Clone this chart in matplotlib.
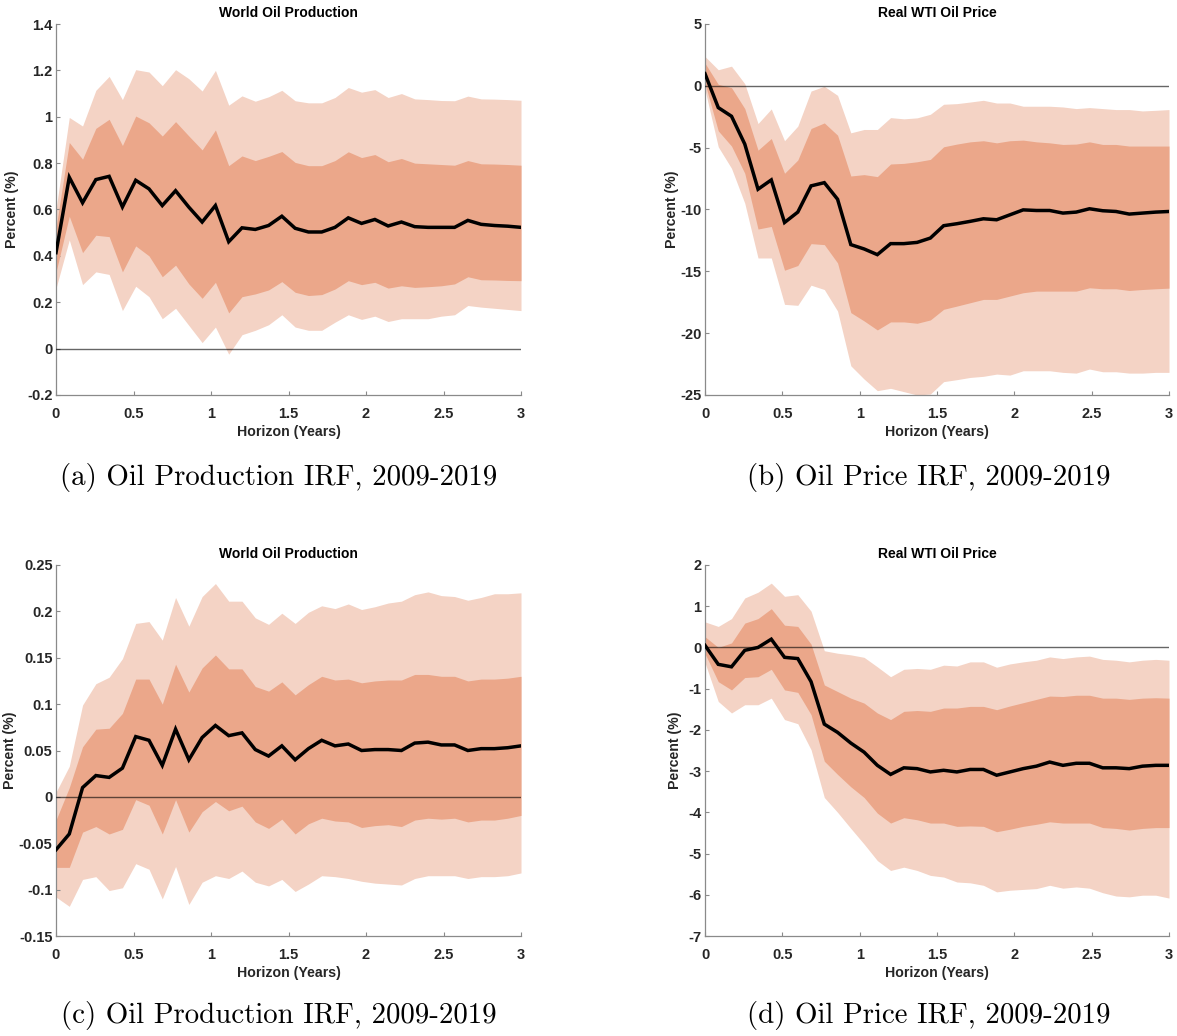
import numpy as np
import matplotlib
matplotlib.use("Agg")
import matplotlib.pyplot as plt
from matplotlib.ticker import FuncFormatter

#%% data: horizon in years (36 monthly steps), median + 68% / 95% bands
horizon = np.linspace(0, 3, 36)

# (a) world oil production, 2009-2019
a_med = [0.414, 0.739, 0.629, 0.729, 0.743, 0.611, 0.726, 0.689, 0.617, 0.681, 0.61, 0.546,
         0.617, 0.461, 0.521, 0.514, 0.531, 0.571, 0.519, 0.503, 0.503, 0.523, 0.564, 0.54,
         0.557, 0.529, 0.546, 0.526, 0.523, 0.523, 0.523, 0.553, 0.536, 0.531, 0.528, 0.523]
a_hi95 = [0.6, 0.997, 0.96, 1.114, 1.174, 1.074, 1.203, 1.193, 1.134, 1.203, 1.164, 1.111,
          1.2, 1.05, 1.09, 1.067, 1.086, 1.114, 1.069, 1.06, 1.06, 1.083, 1.126, 1.106,
          1.117, 1.083, 1.1, 1.077, 1.074, 1.07, 1.069, 1.089, 1.077, 1.076, 1.074, 1.071]
a_hi68 = [0.52, 0.889, 0.817, 0.95, 0.989, 0.876, 1.003, 0.974, 0.917, 0.979, 0.917, 0.857,
          0.943, 0.789, 0.831, 0.811, 0.829, 0.85, 0.803, 0.789, 0.789, 0.811, 0.849, 0.824,
          0.837, 0.806, 0.82, 0.8, 0.797, 0.794, 0.791, 0.811, 0.797, 0.796, 0.794, 0.791]
a_lo68 = [0.33, 0.571, 0.414, 0.489, 0.483, 0.331, 0.443, 0.4, 0.31, 0.36, 0.279, 0.217,
          0.286, 0.154, 0.224, 0.236, 0.253, 0.289, 0.243, 0.229, 0.233, 0.257, 0.293, 0.276,
          0.286, 0.261, 0.271, 0.264, 0.267, 0.271, 0.279, 0.31, 0.297, 0.296, 0.294, 0.293]
a_lo95 = [0.26, 0.469, 0.276, 0.331, 0.32, 0.164, 0.269, 0.224, 0.129, 0.174, 0.1, 0.026,
          0.093, -0.024, 0.06, 0.079, 0.103, 0.146, 0.093, 0.079, 0.079, 0.114, 0.146, 0.126,
          0.14, 0.117, 0.129, 0.129, 0.129, 0.14, 0.146, 0.186, 0.179, 0.174, 0.169, 0.164]

# (b) real WTI oil price, 2009-2019
b_med = [0.98, -1.76, -2.46, -4.71, -8.36, -7.61, -11.05, -10.21, -8.09, -7.83, -9.17, -12.84,
         -13.19, -13.65, -12.76, -12.76, -12.66, -12.31, -11.31, -11.15, -10.96, -10.75, -10.83, -10.43,
         -10.03, -10.08, -10.08, -10.29, -10.21, -9.94, -10.1, -10.16, -10.37, -10.29, -10.21, -10.16]
b_hi95 = [2.37, 1.3, 1.59, 0.17, -3.05, -1.87, -4.44, -3.26, -0.42, -0.04, -0.77, -3.8,
          -3.53, -3.53, -2.57, -2.67, -2.59, -2.3, -1.49, -1.44, -1.31, -1.17, -1.39, -1.39,
          -1.65, -1.65, -1.65, -1.71, -1.84, -1.76, -1.84, -1.92, -1.92, -2.03, -1.98, -1.92]
b_hi68 = [1.83, 0.12, -0.15, -1.84, -5.2, -4.26, -7.07, -6.0, -3.45, -3.0, -3.99, -7.29,
          -7.18, -7.34, -6.32, -6.27, -6.14, -5.95, -4.93, -4.71, -4.53, -4.44, -4.61, -4.44,
          -4.39, -4.53, -4.61, -4.74, -4.71, -4.53, -4.74, -4.74, -4.87, -4.87, -4.87, -4.87]
b_lo68 = [0.2, -3.64, -4.87, -7.07, -11.58, -11.37, -14.91, -14.53, -12.76, -12.84, -14.32, -18.34,
          -19.01, -19.74, -19.09, -19.09, -19.2, -18.93, -18.07, -17.81, -17.54, -17.27, -17.27, -17.0,
          -16.73, -16.6, -16.6, -16.6, -16.6, -16.33, -16.41, -16.41, -16.55, -16.47, -16.41, -16.36]
b_lo95 = [-0.31, -4.93, -6.67, -9.49, -13.92, -13.92, -17.67, -17.75, -16.12, -16.47, -18.21, -22.64,
          -23.71, -24.65, -24.46, -24.73, -25.0, -24.92, -23.92, -23.76, -23.58, -23.49, -23.31, -23.39,
          -23.04, -23.04, -23.04, -23.17, -23.23, -22.9, -23.12, -23.12, -23.23, -23.23, -23.17, -23.17]

# (c) world oil production, second shock
c_med = [-0.057, -0.04, 0.01, 0.023, 0.021, 0.031, 0.065, 0.061, 0.034, 0.073, 0.04, 0.064,
         0.077, 0.066, 0.069, 0.051, 0.044, 0.055, 0.04, 0.052, 0.061, 0.055, 0.057, 0.05,
         0.051, 0.051, 0.05, 0.058, 0.059, 0.056, 0.056, 0.05, 0.052, 0.052, 0.053, 0.055]
c_hi95 = [0.005, 0.033, 0.099, 0.122, 0.129, 0.149, 0.187, 0.189, 0.169, 0.215, 0.184, 0.216,
          0.23, 0.211, 0.211, 0.193, 0.186, 0.198, 0.187, 0.199, 0.206, 0.203, 0.208, 0.202,
          0.205, 0.209, 0.211, 0.218, 0.221, 0.217, 0.216, 0.212, 0.215, 0.219, 0.219, 0.22]
c_hi68 = [-0.025, 0.01, 0.054, 0.073, 0.074, 0.09, 0.127, 0.127, 0.1, 0.143, 0.113, 0.139,
          0.153, 0.138, 0.138, 0.119, 0.114, 0.124, 0.11, 0.121, 0.13, 0.126, 0.127, 0.123,
          0.125, 0.126, 0.126, 0.132, 0.132, 0.13, 0.13, 0.125, 0.127, 0.127, 0.128, 0.13]
c_lo68 = [-0.076, -0.076, -0.038, -0.032, -0.04, -0.035, -0.003, -0.009, -0.04, -0.003, -0.038, -0.016,
          -0.005, -0.015, -0.01, -0.027, -0.034, -0.024, -0.04, -0.029, -0.023, -0.026, -0.027, -0.033,
          -0.031, -0.03, -0.032, -0.025, -0.023, -0.024, -0.023, -0.027, -0.025, -0.025, -0.023, -0.02]
c_lo95 = [-0.108, -0.118, -0.089, -0.086, -0.101, -0.098, -0.072, -0.078, -0.11, -0.075, -0.116, -0.092,
          -0.085, -0.088, -0.08, -0.092, -0.096, -0.089, -0.102, -0.094, -0.085, -0.086, -0.088, -0.091,
          -0.093, -0.094, -0.095, -0.088, -0.085, -0.085, -0.085, -0.088, -0.086, -0.086, -0.085, -0.082]

# (d) real WTI oil price, second shock
d_med = [0.05, -0.41, -0.47, -0.07, 0.0, 0.2, -0.24, -0.27, -0.83, -1.86, -2.06, -2.32,
         -2.54, -2.86, -3.08, -2.92, -2.94, -3.02, -2.98, -3.02, -2.96, -2.96, -3.1, -3.02,
         -2.94, -2.88, -2.78, -2.86, -2.81, -2.81, -2.92, -2.92, -2.94, -2.88, -2.86, -2.86]
d_hi95 = [0.62, 0.51, 0.7, 1.2, 1.34, 1.56, 1.24, 1.28, 0.88, -0.08, -0.14, -0.18,
          -0.24, -0.47, -0.71, -0.53, -0.51, -0.53, -0.43, -0.45, -0.35, -0.35, -0.48, -0.4,
          -0.35, -0.31, -0.23, -0.27, -0.23, -0.21, -0.29, -0.31, -0.35, -0.31, -0.29, -0.31]
d_hi68 = [0.26, 0.0, 0.11, 0.59, 0.7, 0.94, 0.54, 0.51, 0.08, -0.91, -1.07, -1.23,
          -1.35, -1.59, -1.75, -1.55, -1.53, -1.55, -1.47, -1.47, -1.43, -1.43, -1.51, -1.42,
          -1.34, -1.26, -1.18, -1.19, -1.16, -1.16, -1.23, -1.23, -1.26, -1.23, -1.22, -1.23]
d_lo68 = [-0.15, -0.83, -1.03, -0.73, -0.71, -0.53, -1.03, -1.09, -1.63, -2.76, -3.08, -3.38,
          -3.64, -4.02, -4.26, -4.13, -4.18, -4.26, -4.26, -4.34, -4.33, -4.34, -4.47, -4.41,
          -4.34, -4.29, -4.23, -4.26, -4.26, -4.26, -4.37, -4.39, -4.43, -4.39, -4.37, -4.37]
d_lo95 = [-0.37, -1.31, -1.59, -1.39, -1.39, -1.23, -1.75, -1.85, -2.48, -3.64, -4.0, -4.39,
          -4.77, -5.17, -5.41, -5.33, -5.41, -5.53, -5.57, -5.69, -5.71, -5.77, -5.93, -5.89,
          -5.87, -5.85, -5.77, -5.84, -5.81, -5.84, -5.95, -6.03, -6.05, -6.01, -6.01, -6.08]

titles = ["World Oil Production", "Real WTI Oil Price", "World Oil Production", "Real WTI Oil Price"]
captions = ["(a) Oil Production IRF, 2009-2019", "(b) Oil Price IRF, 2009-2019",
            "(c) Oil Production IRF, 2009-2019", "(d) Oil Price IRF, 2009-2019"]
ylims = [(-0.2, 1.4), (-25, 5), (-0.15, 0.25), (-7, 2)]
ysteps = [0.2, 5, 0.05, 1]

#%% style
light = "#F4D3C5"
dark = "#EBA78A"
axcol = "#8a8a8a"
txtcol = "#262626"
plt.rcParams["font.family"] = ["Liberation Sans", "DejaVu Sans"]
plt.rcParams["font.size"] = 10
plt.rcParams["font.weight"] = "bold"


def fmt(v, pos):
    v = round(v, 4)
    if v == 0:
        return "0"
    return f"{v:g}"


def plot_irf(ax, med, lo95, hi95, lo68, hi68, title, ylim, ystep, ylab_x):
    ax.fill_between(horizon, lo95, hi95, color=light, lw=0, zorder=1)
    ax.fill_between(horizon, lo68, hi68, color=dark, lw=0, zorder=2)
    ax.axhline(0, color="black", lw=1.0, alpha=0.6, zorder=3)
    ax.plot(horizon, med, color="black", lw=2.5, zorder=4, solid_joinstyle="miter")
    ax.set_xlim(0, 3)
    ax.set_ylim(*ylim)
    ax.set_xticks(np.arange(0, 3.01, 0.5))
    ax.set_yticks(np.arange(ylim[0], ylim[1] + ystep / 2, ystep))
    ax.xaxis.set_major_formatter(FuncFormatter(fmt))
    ax.yaxis.set_major_formatter(FuncFormatter(fmt))
    for s in ["top", "right"]:
        ax.spines[s].set_visible(False)
    for s in ["left", "bottom"]:
        ax.spines[s].set_color(axcol)
        ax.spines[s].set_linewidth(0.9)
    ax.tick_params(direction="in", length=3, width=0.8, color=axcol, labelcolor=txtcol,
                   labelsize=10.5)
    ax.tick_params(axis="x", pad=8.5)
    ax.tick_params(axis="y", pad=2.5)
    for lab in ax.get_xticklabels() + ax.get_yticklabels():
        lab.set_fontweight("bold")
    ax.set_title(title, fontsize=10, fontweight="bold", color="black", pad=5)
    ax.set_xlabel("Horizon (Years)", fontsize=10.2, fontweight="bold", color=txtcol, labelpad=3)
    ax.set_ylabel("Percent (%)", fontsize=10.2, fontweight="bold", color=txtcol, va="center")
    ax.yaxis.set_label_coords(ylab_x, 0.5)


#%% figure
W, H = 1177, 1036
fig = plt.figure(figsize=(W / 100, H / 100), dpi=100)

# axes boxes in pixels: left, top, right, bottom
boxes = [(56, 24, 521, 395), (705, 24, 1169, 395), (56, 565, 521, 936), (705, 565, 1169, 936)]
ylab_px = [12, 672, 10, 675]
data = [(a_med, a_lo95, a_hi95, a_lo68, a_hi68),
        (b_med, b_lo95, b_hi95, b_lo68, b_hi68),
        (c_med, c_lo95, c_hi95, c_lo68, c_hi68),
        (d_med, d_lo95, d_hi95, d_lo68, d_hi68)]

for i, (l, t, r, b) in enumerate(boxes):
    ax = fig.add_axes([l / W, 1 - b / H, (r - l) / W, (b - t) / H])
    plot_irf(ax, *data[i], titles[i], ylims[i], ysteps[i], (ylab_px[i] - l) / (r - l))

cap_x = [279, 929, 279, 929]
cap_y = [477, 477, 1016, 1016]
for i in range(4):
    fig.text(cap_x[i] / W, 1 - cap_y[i] / H, captions[i], ha="center", va="center",
             fontsize=20.8, fontfamily="cmr10", fontweight="normal", color="black")

fig.savefig("out.png", dpi=100)
